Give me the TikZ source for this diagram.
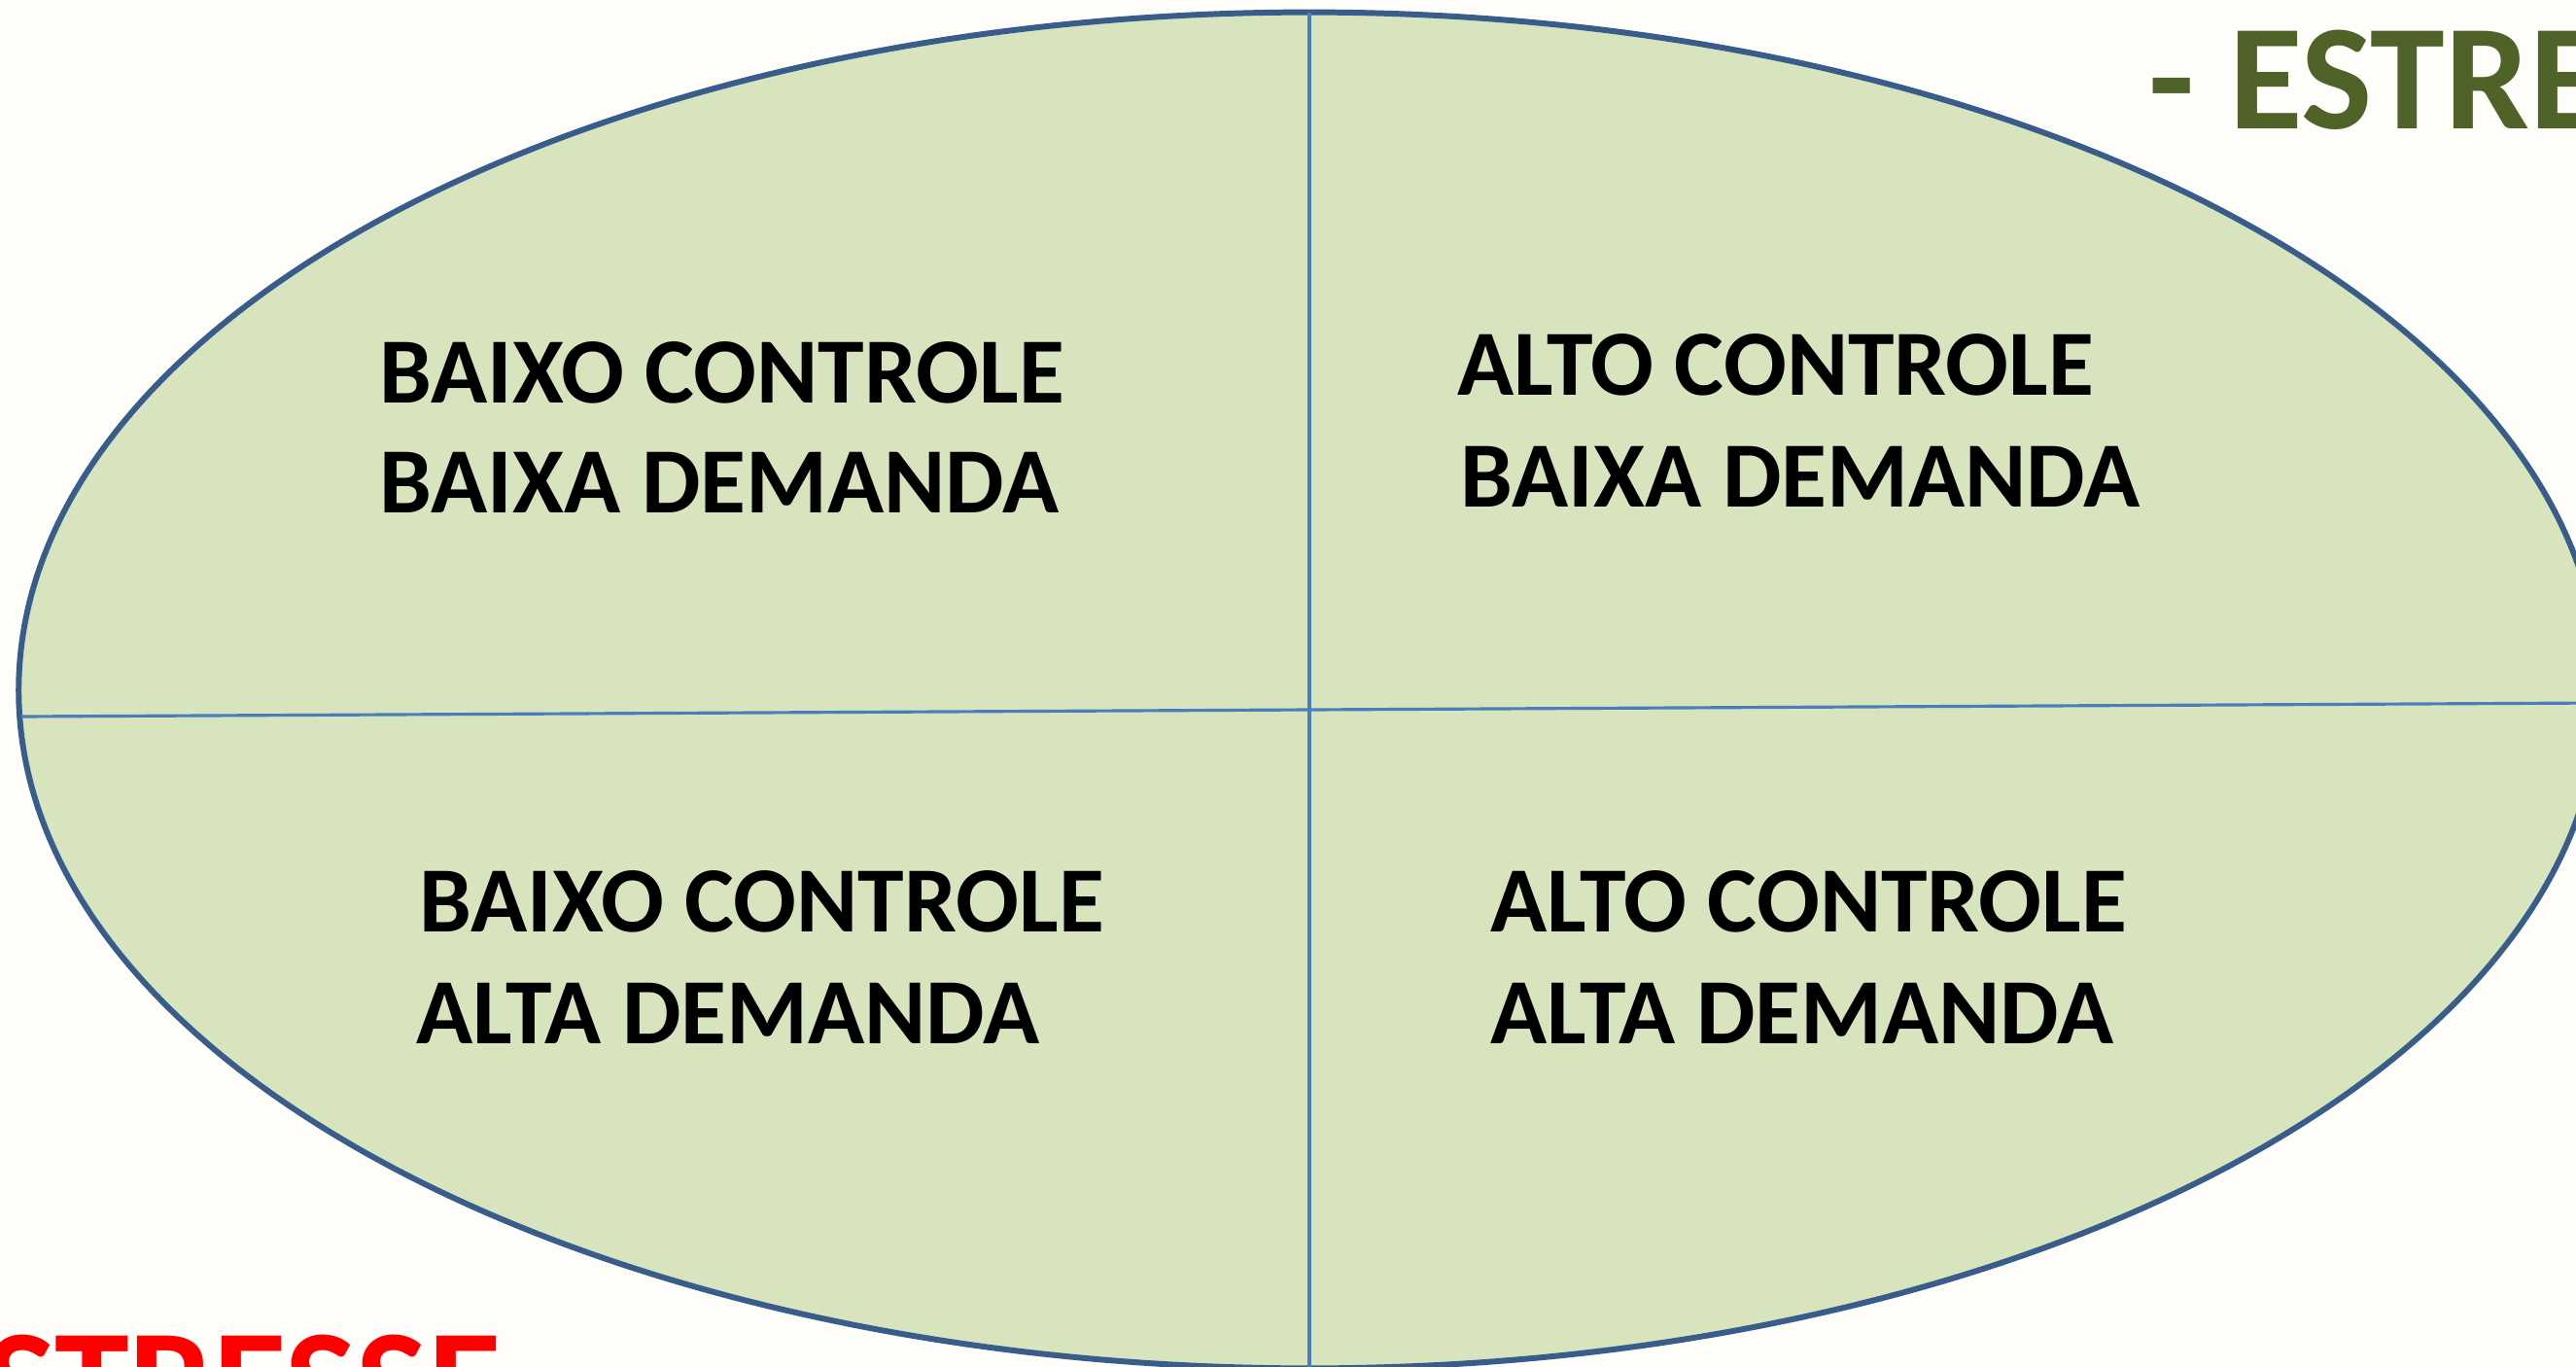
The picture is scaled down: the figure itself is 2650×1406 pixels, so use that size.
\documentclass[tikz,border=0pt]{standalone}
\usepackage{fontspec}
\setmainfont{Carlito}
\definecolor{bgc}{RGB}{254,253,250}
\definecolor{ellfill}{RGB}{216,228,189}
\definecolor{elledge}{RGB}{56,93,138}
\definecolor{axisc}{RGB}{74,126,187}
\definecolor{greentxt}{RGB}{79,98,40}
\definecolor{redtxt}{RGB}{255,0,0}
\tikzset{
  quadtxt/.style={anchor=base west, inner sep=0pt, font=\fontsize{27.3}{33}\selectfont\bfseries, text=black},
  bigtxt/.style={inner sep=0pt, font=\fontsize{44}{52}\selectfont\bfseries},
  axisline/.style={draw=axisc, line width=0.9pt},
}
\begin{document}
\begin{tikzpicture}[x=0.01cm, y=-0.01cm]
\useasboundingbox (0,0) rectangle (2650,1406);
\fill[bgc] (0,0) rectangle (2650,1406);
% ellipse
\filldraw[fill=ellfill, draw=elledge, line width=1.7pt] (1347,710) ellipse [x radius=13.27cm, y radius=6.97cm];
% axes
\coordinate (vtop) at (1347,13);
\coordinate (vbot) at (1347,1407);
\coordinate (hleft) at (22,737);
\coordinate (hright) at (2674,723);
\draw[axisline] (vtop) -- (vbot);
\draw[axisline] (hleft) -- (hright);
% quadrant labels
\node[quadtxt] (tl1) at (390,414) {BAIXO CONTROLE};
\node[quadtxt] (tl2) at (390,527) {BAIXA DEMANDA};
\node[quadtxt] (tr1) at (1499,406) {ALTO CONTROLE};
\node[quadtxt] (tr2) at (1502,521) {BAIXA DEMANDA};
\node[quadtxt] (bl1) at (431,958) {BAIXO CONTROLE};
\node[quadtxt] (bl2) at (428,1073) {ALTA DEMANDA};
\node[quadtxt] (br1) at (1533,958) {ALTO CONTROLE};
\node[quadtxt] (br2) at (1533,1073) {ALTA DEMANDA};
% cut-off titles
\node[bigtxt, anchor=base west, text=greentxt] (minus) at (2210,132) {- ESTRESSE};
\node[bigtxt, anchor=base east, text=redtxt] (plus) at (516,1474) {ESTRESSE};
\end{tikzpicture}
\end{document}
